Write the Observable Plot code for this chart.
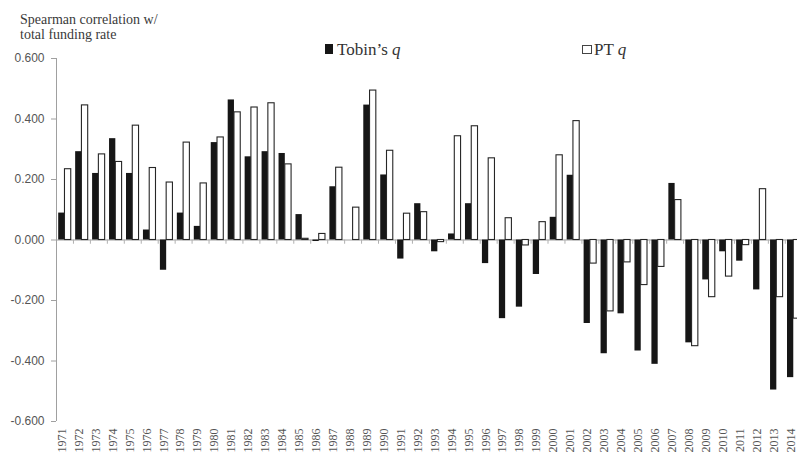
<!DOCTYPE html>
<html><head><meta charset="utf-8">
<script src="https://cdn.jsdelivr.net/npm/d3@7"></script>
<script src="https://cdn.jsdelivr.net/npm/@observablehq/plot@0.6"></script>
<style>
html,body{margin:0;padding:0;background:#fff;overflow:hidden;}
#wrap{position:relative;width:797px;height:457px;}
#wrap svg{position:absolute;left:0;top:0;}
.title{position:absolute;left:20px;top:12px;font:14px "Liberation Serif",serif;color:#3a3a3a;line-height:15px;white-space:nowrap;}
.legtxt{position:absolute;font:17px "Liberation Serif",serif;color:#333;line-height:17px;white-space:nowrap;}
.sw{position:absolute;box-sizing:border-box;}
</style></head><body>
<div id="wrap"></div>
<script>
const years = [1971,1972,1973,1974,1975,1976,1977,1978,1979,1980,
  1981,1982,1983,1984,1985,1986,1987,1988,1989,1990,
  1991,1992,1993,1994,1995,1996,1997,1998,1999,2000,
  2001,2002,2003,2004,2005,2006,2007,2008,2009,2010,
  2011,2012,2013,2014];
const tobin = [0.089,0.292,0.220,0.335,0.220,0.033,-0.100,0.089,0.045,0.322,
  0.463,0.275,0.292,0.286,0.084,-0.005,0.176,0.000,0.446,0.215,
  -0.063,0.120,-0.039,0.020,0.120,-0.078,-0.260,-0.222,-0.114,0.075,
  0.214,-0.276,-0.376,-0.244,-0.367,-0.411,0.187,-0.340,-0.132,-0.039,
  -0.070,-0.165,-0.496,-0.455];
const pt = [0.234,0.445,0.283,0.258,0.378,0.238,0.190,0.322,0.187,0.339,
  0.422,0.438,0.452,0.250,0.004,0.020,0.239,0.107,0.494,0.295,
  0.087,0.092,-0.007,0.343,0.376,0.270,0.072,-0.018,0.059,0.280,
  0.393,-0.078,-0.236,-0.074,-0.149,-0.089,0.132,-0.351,-0.189,-0.121,
  -0.017,0.168,-0.189,-0.260];
const yTicks = [-0.6,-0.4,-0.2,0,0.2,0.4,0.6];
const seriesLabels = ["Tobin\u2019s", "PT"];
const titleLines = ["Spearman correlation w/", "total funding rate"];

const tobinData = years.map((y,i)=>({year:y, value:tobin[i]}));
const ptData = years.map((y,i)=>({year:y, value:pt[i]}));
const half = 0.37;

const chart = Plot.plot({
  width:797, height:457,
  marginLeft:56, marginRight:0, marginTop:58, marginBottom:36,
  x:{domain:[1970.5, 2014.22], axis:null},
  y:{domain:[-0.6,0.6], axis:null},
  style:{background:"white"},
  marks:[
    Plot.ruleX([1970.5], {y1:-0.6, y2:0.6, stroke:"#a0a0a0"}),
    Plot.axisY({ticks:yTicks, tickFormat:d=>d.toFixed(3), tickSize:5, tickPadding:7,
      fontSize:12, fontFamily:"'Liberation Sans', Arial, sans-serif", stroke:"#a0a0a0", fill:"#555", label:null}),
    Plot.axisX({ticks:years, tickFormat:d=>String(d), tickRotate:-90, tickSize:0, tickPadding:7,
      fontSize:12, fontFamily:"'Liberation Serif', serif", fill:"#555", label:null, dx:-3}),
    Plot.ruleY([0], {stroke:"#a0a0a0"}),
    Plot.ruleX(years, {x:d=>d+0.5, y1:0, y2:-0.014, stroke:"#b0b0b0"}),
    Plot.rectY(tobinData, {x1:d=>d.year-half, x2:d=>d.year, y:"value", fill:"#161616", clip:true}),
    Plot.rectY(ptData, {x1:d=>d.year, x2:d=>d.year+half, y:"value", fill:"white", stroke:"#262626", strokeWidth:1.1, clip:true})
  ]
});
const wrap = document.getElementById("wrap");
wrap.appendChild(chart);

const t = document.createElement("div");
t.className = "title";
t.innerHTML = titleLines.join("<br>");
wrap.appendChild(t);

function legend(label, swStyle, swPos, txtPos){
  const s = document.createElement("div");
  s.className = "sw";
  Object.assign(s.style, swStyle, swPos);
  wrap.appendChild(s);
  const tx = document.createElement("div");
  tx.className = "legtxt";
  tx.innerHTML = label + " <i>q</i>";
  Object.assign(tx.style, txtPos);
  wrap.appendChild(tx);
}
legend(seriesLabels[0], {background:"#161616"}, {left:"325px", top:"44px", width:"8px", height:"10px"}, {left:"337px", top:"41px"});
legend(seriesLabels[1], {background:"#fff", border:"1.5px solid #444"}, {left:"582px", top:"45px", width:"10px", height:"9px"}, {left:"594px", top:"41px"});
</script>
</body></html>
